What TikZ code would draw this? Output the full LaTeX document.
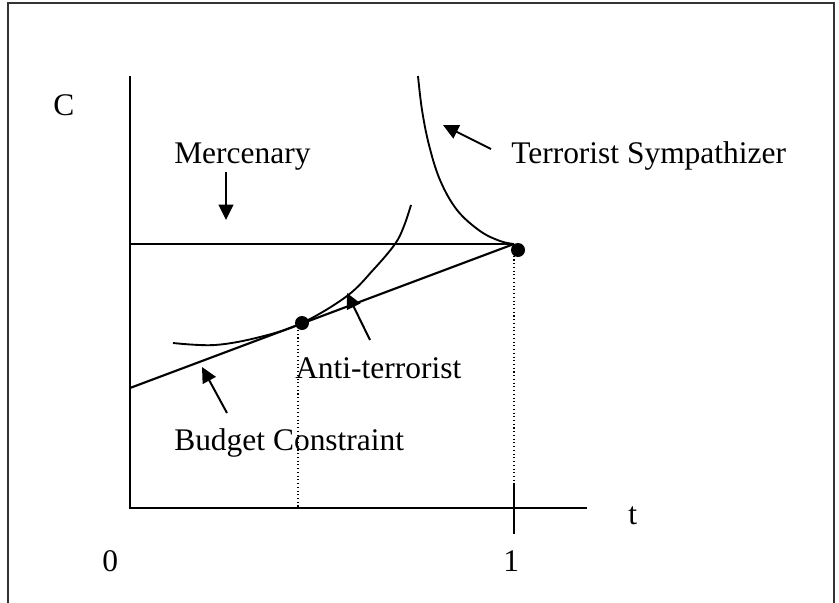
\documentclass[tikz,border=0pt]{standalone}
\usepackage{fontspec}
\setmainfont{Liberation Serif}
\usetikzlibrary{arrows.meta}
\begin{document}
\begin{tikzpicture}[x=0.75pt,y=-0.75pt,
  lbl/.style={font=\fontsize{23.6}{28}\selectfont, inner sep=0pt, anchor=base west},
  axisline/.style={line width=1.6pt},
  curveline/.style={line width=1.4pt},
  ptr/.style={line width=1.5pt, -{Triangle[length=11.5pt,width=11pt]}},
  guide/.style={line width=0.8pt, dotted},
  dotpt/.style={circle, fill=black, inner sep=0pt, minimum size=10.5pt}]
\useasboundingbox (0,0) rectangle (839,603);
% frame
\draw[line width=1.5pt, black!80] (8,603) -- (8,3) -- (834,3) -- (834,603);
% axes
\coordinate (O) at (130,508);
\coordinate (ytop) at (130,76);
\coordinate (xend) at (587,508);
\draw[axisline] (ytop) -- (O) -- (xend);
\coordinate (tickTop) at (514,485);
\coordinate (tickBot) at (514,534);
\draw[axisline] (tickTop) -- (tickBot);
% guide lines
\coordinate (g1a) at (298,330);
\coordinate (g1b) at (298,508);
\coordinate (g2a) at (514,252);
\coordinate (g2b) at (514,508);
\draw[guide] (g1a) -- (g1b);
\draw[guide] (g2a) -- (g2b);
% mercenary horizontal and budget line
\coordinate (hl) at (130,244);
\coordinate (hr) at (514,244);
\coordinate (bl) at (130,388);
\draw[axisline] (hl) -- (hr);
\draw[axisline] (bl) -- (hr);
% anti-terrorist indifference curve
\draw[curveline] plot[smooth, tension=0.6] coordinates {(173,343) (215,345) (260,337) (302,323) (347,296) (374,269) (395,244) (404,226) (411,205)};
% terrorist sympathizer curve
\draw[curveline] plot[smooth, tension=0.6] coordinates {(418,76) (422,110) (429,145) (440,180) (457,210) (480,231) (500,241) (514,244)};
% dots
\node[dotpt] (d1) at (302,323) {};
\node[dotpt] (d2) at (518,250) {};
% labels
\node[lbl] (C) at (53,115) {C};
\node[lbl] (t) at (628,524) {t};
\node[lbl] (zero) at (102,571) {0};
\node[lbl] (one) at (503,571) {1};
\node[lbl] (merc) at (174,163) {Mercenary};
\node[lbl] (ts) at (511,163) {Terrorist Sympathizer};
\node[lbl] (at) at (295,378) {Anti-terrorist};
\node[lbl] (bc) at (174,450) {Budget Constraint};
% pointer arrows
\coordinate (m1) at (226,172); \coordinate (m2) at (226,220);
\coordinate (s1) at (491,149); \coordinate (s2) at (443,125);
\coordinate (a1) at (370,340); \coordinate (a2) at (347,293);
\coordinate (b1) at (227,413); \coordinate (b2) at (202,367);
\draw[ptr] (m1) -- (m2);
\draw[ptr] (s1) -- (s2);
\draw[ptr] (a1) -- (a2);
\draw[ptr] (b1) -- (b2);
\end{tikzpicture}
\end{document}
